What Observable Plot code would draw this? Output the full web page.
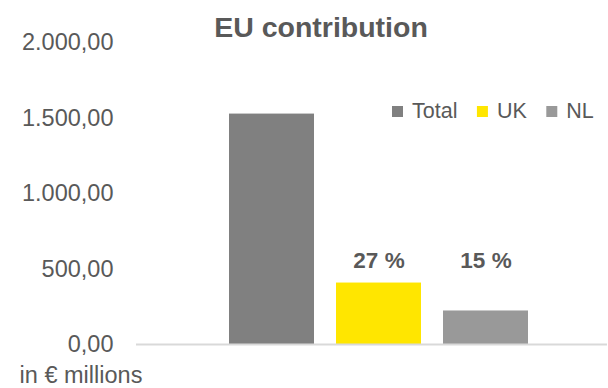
<!DOCTYPE html>
<html>
<head>
<meta charset="utf-8">
<script src="https://cdn.jsdelivr.net/npm/d3@7"></script>
<script src="https://cdn.jsdelivr.net/npm/@observablehq/plot@0.6"></script>
<style>
  html, body { margin: 0; padding: 0; background: #ffffff; }
  #chart { width: 608px; height: 388px; }
</style>
</head>
<body>
<div id="chart"></div>
<script>
// ---- data ----
const categories = ["Total", "UK", "NL"];
const values = [1526, 407, 222];
const pctLabels = ["", "27 %", "15 %"];
const colors = ["#808080", "#FFE600", "#999999"];
const yTicks = [0, 500, 1000, 1500, 2000];
const titleText = "EU contribution";
const unitText = "in € millions";

const data = categories.map((c, i) => ({cat: c, value: values[i], pct: pctLabels[i]}));

const locale = d3.formatLocale({decimal: ",", thousands: ".", grouping: [3], currency: ["", " €"]});
const fmt = locale.format(",.2f");

const textColor = "#595959";
const fontFamily = "'Liberation Sans', Arial, Helvetica, sans-serif";

const svg = Plot.plot({
  width: 608,
  height: 388,
  marginTop: 42,
  marginBottom: 44,
  marginLeft: 136,
  marginRight: 1,
  x: {domain: categories, paddingInner: 0.21, paddingOuter: 0.795, align: 0.538, axis: null},
  y: {domain: [0, 2000]},
  color: {domain: categories, range: colors},
  style: {fontFamily, fontSize: "22px", color: textColor, background: "#ffffff"},
  marks: [
    Plot.axisY({ticks: yTicks, tickFormat: fmt, tickSize: 0, tickPadding: 23, label: null, fontSize: 23.5}),
    Plot.barY(data, {x: "cat", y: "value", fill: "cat"}),
    Plot.ruleY([0], {stroke: "#d9d9d9", strokeWidth: 2}),
    Plot.text(data.filter(d => d.pct), {
      x: "cat", text: "pct", frameAnchor: "bottom", dy: -77,
      fontWeight: "bold", fontSize: 22.5, fill: textColor
    })
  ]
});

document.getElementById("chart").appendChild(svg);
const s = d3.select(svg);

// title
s.append("text")
  .attr("x", 321).attr("y", 36.7)
  .attr("text-anchor", "middle")
  .attr("font-family", fontFamily)
  .attr("font-weight", "bold")
  .attr("font-size", 28.5)
  .attr("fill", textColor)
  .text(titleText);

// unit caption
s.append("text")
  .attr("x", 81).attr("y", 383)
  .attr("text-anchor", "middle")
  .attr("font-family", fontFamily)
  .attr("font-size", 23.5)
  .attr("fill", textColor)
  .text(unitText);

// legend
const lg = s.append("g")
  .attr("font-family", fontFamily)
  .attr("font-size", 21.5)
  .attr("text-anchor", "start")
  .attr("fill", textColor);
let cx = 392;
categories.forEach((c, i) => {
  lg.append("rect").attr("x", cx).attr("y", 106).attr("width", 11).attr("height", 11).attr("fill", colors[i]);
  const t = lg.append("text").attr("x", cx + 20).attr("y", 118).attr("text-anchor", "start").text(c);
  const w = t.node().getComputedTextLength();
  cx = cx + 20 + w + 19.5;
});
</script>
</body>
</html>
